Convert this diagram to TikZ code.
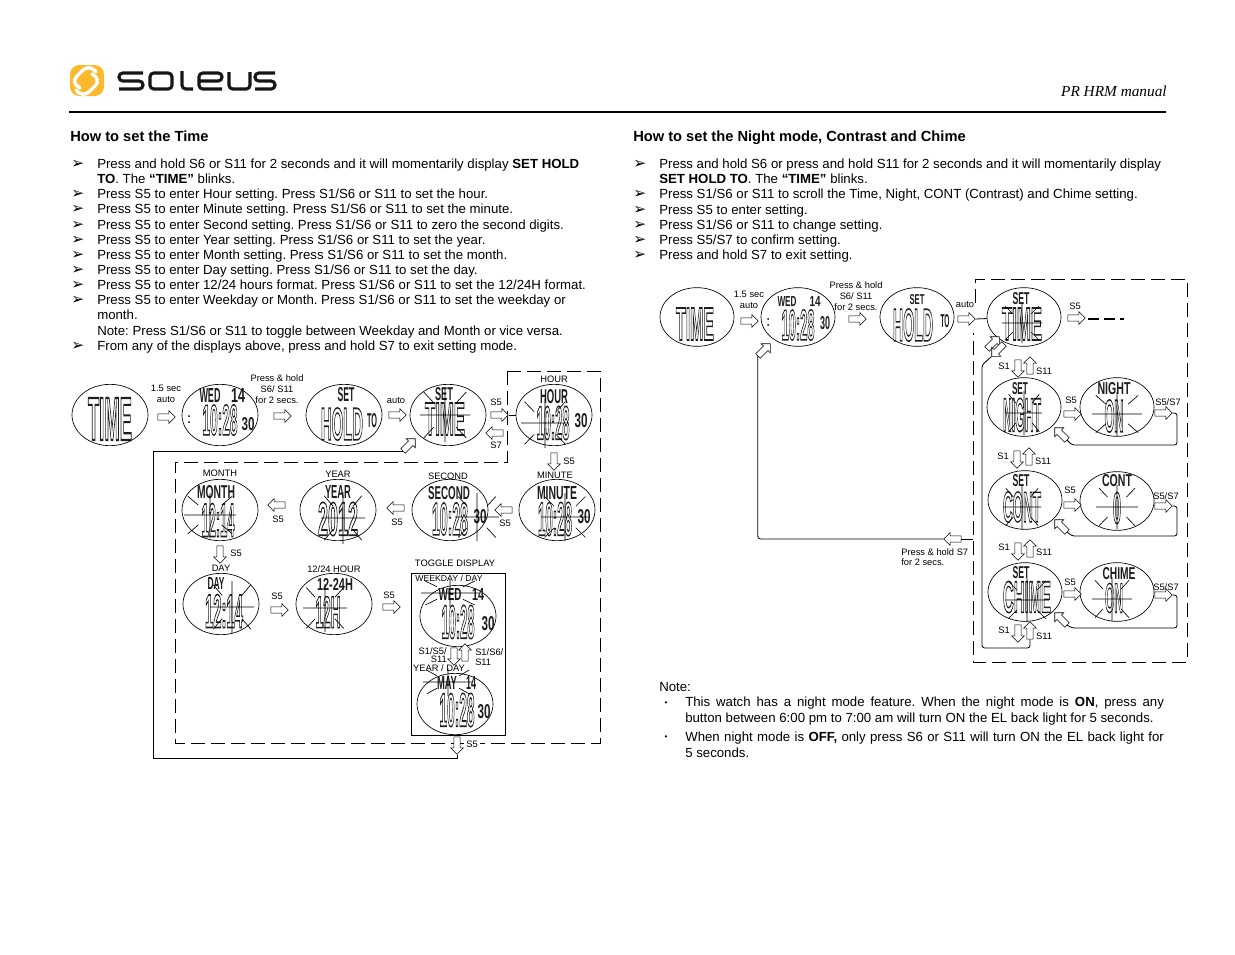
\documentclass[tikz,border=0pt]{standalone}
\usepackage{graphicx}
\usepackage{fontspec}
\setmainfont{Liberation Sans}
\newfontfamily\serifface{Liberation Serif}
\newfontfamily\symface{DejaVu Sans}
\newfontfamily\lcdface{Liberation Sans}
\usetikzlibrary{shapes.geometric, shapes.arrows}
\frenchspacing
\definecolor{logoyellow}{RGB}{253, 185, 46}
\definecolor{logoink}{RGB}{22, 22, 22}
\definecolor{lcdgray}{RGB}{30, 30, 30}
\newlength{\pxunit}
\setlength{\pxunit}{0.75pt}
\tikzset{
  watch/.style={ellipse, draw, line width=0.5pt, inner sep=0pt, minimum width=57pt, minimum height=46pt},
  smallwatch/.style={ellipse, draw, line width=0.5pt, inner sep=0pt, minimum width=55.5pt, minimum height=44pt},
  lcdlabel/.style={inner sep=0pt, text=lcdgray},
  hollow/.style={single arrow, draw, fill=white, line width=0.4pt, inner sep=2.2pt, minimum height=13pt, single arrow head extend=2.4pt, single arrow head indent=0pt},
  wire/.style={line width=0.6pt, rounded corners=2pt},
  dashframe/.style={line width=0.6pt, dash pattern=on 10.5pt off 4.5pt},
  rays/.style={line width=0.5pt},
  caption/.style={inner sep=0pt, font=\fontsize{7}{8}\selectfont, align=center},
  body/.style={inner sep=0pt, anchor=base west, font=\fontsize{9.92}{11}\selectfont},
  bulletmark/.style={inner sep=0pt, anchor=base west, font=\symface\fontsize{11.5}{13}\selectfont},
  heading/.style={inner sep=0pt, anchor=base west, font=\bfseries\fontsize{11}{13}\selectfont},
  notetext/.style={inner sep=0pt, anchor=north west, text width=359pt, align=justify, font=\fontsize{9.92}{11.6}\selectfont},
  notemark/.style={inner sep=0pt, font=\fontsize{6}{7}\selectfont},
  logostroke/.style={draw=logoink, line width=2.3pt, rounded corners=2.8pt}
}
% one stretched text of a display, at (x,y), w by h; tall ones are hollow
\newcommand{\lcdtext}[5]{\node[lcdlabel] (lcd#1#2) at (#1,#2) {\resizebox{#3\pxunit}{#4\pxunit}{\ifnum#4>15 \special{pdf:code 1 Tr 0.34 w}\fi\lcdface\bfseries #5\ifnum#4>15 \special{pdf:code 0 Tr}\fi}};}
\newcommand{\blinkrays}[4]{\draw[rays, shift={(#1,#2)}] (-#3,0) -- (#3,0) (0,-#4) -- (0,#4)
  ({-0.45*#3},{-0.45*#4}) -- ({-0.85*#3},{-0.85*#4}) ({0.45*#3},{-0.45*#4}) -- ({0.85*#3},{-0.85*#4})
  ({-0.45*#3},{0.45*#4}) -- ({-0.85*#3},{0.85*#4}) ({0.45*#3},{0.45*#4}) -- ({0.85*#3},{0.85*#4});}
\begin{document}
\begin{tikzpicture}[x=0.75pt, y=-0.75pt]
\useasboundingbox (0,0) rectangle (1235,954);
% logo
\fill[logoyellow, rounded corners=7pt] (70,65) rectangle (104,96);
\draw[white, line width=2.6pt, line cap=round] (96,72) .. controls (91,66) and (86,67) .. (82,71) -- (77,76) .. controls (73,80) and (74,85) .. (80,88);
\draw[white, line width=2.6pt, line cap=round] (76,90) .. controls (81,96) and (86,95) .. (90,91) -- (95,86) .. controls (99,82) and (98,77) .. (92,74);
\draw[logostroke] (143,73) -- (119,73) -- (119,81) -- (143,81) -- (143,89) -- (119,89);
\draw[logostroke] (150,73) rectangle (172,89);
\draw[logostroke] (182,71) -- (182,89) -- (193,89);
\draw[logostroke] (199,81) -- (222,81) -- (222,73) -- (199,73) -- (199,89) -- (222,89);
\draw[logostroke] (229,72) -- (229,89) -- (250,89) -- (250,72);
\draw[logostroke] (275,73) -- (255,73) -- (255,81) -- (275,81) -- (275,89) -- (255,89);
\node[inner sep=0pt, anchor=base east, font=\serifface\itshape\fontsize{11.5}{13}\selectfont] (manual) at (1167,96) {PR HRM manual};
\draw[line width=1.5pt] (69,112) -- (1166,112);

% left column text
\node[heading] (lefthead) at (70,141) {How to set the Time};
\foreach \ypos in {168,198,213,229,244,259,274,289,304,350}
  \node[bulletmark] (lm\ypos) at (71,\ypos) {➢};
\node[body] (l1) at (97,168) {Press and hold S6 or S11 for 2 seconds and it will momentarily display \textbf{SET HOLD}};
\node[body] (l2) at (97,183) {\textbf{TO}. The \textbf{“TIME”} blinks.};
\node[body] (l3) at (97,198) {Press S5 to enter Hour setting. Press S1/S6 or S11 to set the hour.};
\node[body] (l4) at (97,213) {Press S5 to enter Minute setting. Press S1/S6 or S11 to set the minute.};
\node[body] (l5) at (97,229) {Press S5 to enter Second setting. Press S1/S6 or S11 to zero the second digits.};
\node[body] (l6) at (97,244) {Press S5 to enter Year setting. Press S1/S6 or S11 to set the year.};
\node[body] (l7) at (97,259) {Press S5 to enter Month setting. Press S1/S6 or S11 to set the month.};
\node[body] (l8) at (97,274) {Press S5 to enter Day setting. Press S1/S6 or S11 to set the day.};
\node[body] (l9) at (97,289) {Press S5 to enter 12/24 hours format. Press S1/S6 or S11 to set the 12/24H format.};
\node[body] (l10) at (97,304) {Press S5 to enter Weekday or Month. Press S1/S6 or S11 to set the weekday or};
\node[body] (l11) at (97,319) {month.};
\node[body] (l12) at (97,335) {Note: Press S1/S6 or S11 to toggle between Weekday and Month or vice versa.};
\node[body] (l13) at (97,350) {From any of the displays above, press and hold S7 to exit setting mode.};

% right column text
\node[heading] (righthead) at (633,141) {How to set the Night mode, Contrast and Chime};
\foreach \ypos in {168,198,214,229,244,259}
  \node[bulletmark] (rm\ypos) at (633,\ypos) {➢};
\node[body] (r1) at (659,168) {Press and hold S6 or press and hold S11 for 2 seconds and it will momentarily display};
\node[body] (r2) at (659,183) {\textbf{SET HOLD TO}. The \textbf{“TIME”} blinks.};
\node[body] (r3) at (659,198) {Press S1/S6 or S11 to scroll the Time, Night, CONT (Contrast) and Chime setting.};
\node[body] (r4) at (659,214) {Press S5 to enter setting.};
\node[body] (r5) at (659,229) {Press S1/S6 or S11 to change setting.};
\node[body] (r6) at (659,244) {Press S5/S7 to confirm setting.};
\node[body] (r7) at (659,259) {Press and hold S7 to exit setting.};

% frames go under the arrows
\draw[dashframe] (507,371) -- (600,371) -- (600,743) -- (175,743) -- (175,462) -- (507,462) -- cycle;
\draw[line width=0.5pt] (505,573) -- (411,573) -- (411,735) -- (505,735) -- cycle;
\draw[dashframe] (975,303) -- (975,279) -- (1187,279) -- (1187,662) -- (973,662) -- (973,333);

% left diagram, faces
\node[watch] (ltime) at (110,415) {};
\node[watch] (lwed) at (220,415) {};
\node[watch] (lhold) at (344,415) {};
\node[watch] (lset) at (448,415) {};
\node[watch] (lhour) at (554,415) {};
\node[watch] (lmonth) at (220,510) {};
\node[watch] (lyear) at (338,510) {};
\node[watch] (lsecond) at (450,510) {};
\node[watch] (lminute) at (557,510) {};
\node[watch] (lday) at (221,604) {};
\node[watch] (lhours) at (334,604) {};
\node[watch] (lweek) at (458,616) {};
\node[watch] (lyearday) at (455,704) {};

\begin{scope}[shift={(110,415)}]
\lcdtext{0}{4}{44}{42}{TIME}
\end{scope}
\begin{scope}[shift={(220,415)}]
\lcdtext{-10}{-20}{21}{14}{WED}
\lcdtext{18}{-20}{14}{14}{14}
\lcdtext{0}{5}{35}{30}{10:28}
\lcdtext{28}{9}{13}{13}{30}
\fill (-31,1) circle (1) (-31,7) circle (1);
\end{scope}
\begin{scope}[shift={(344,415)}]
\lcdtext{2}{-20}{17}{14}{SET}
\lcdtext{-2}{9}{42}{32}{HOLD}
\lcdtext{28}{6}{10}{14}{TO}
\end{scope}
\begin{scope}[shift={(448,415)}]
\lcdtext{-4}{-21}{18}{13}{SET}
\lcdtext{-3}{4}{40}{32}{TIME}
\blinkrays{-3}{0}{25}{27}
\end{scope}
\begin{scope}[shift={(554,415)}]
\lcdtext{0}{-18}{28}{14}{HOUR}
\lcdtext{-1}{8}{33}{33}{10:28}
\lcdtext{27}{6}{13}{14}{30}
\blinkrays{-9}{8}{24}{25}
\end{scope}
\begin{scope}[shift={(220,510)}]
\lcdtext{-4}{-18}{38}{13}{MONTH}
\lcdtext{-2}{10}{33}{33}{12:14}
\blinkrays{-10}{5}{26}{22}
\end{scope}
\begin{scope}[shift={(338,510)}]
\lcdtext{0}{-18}{26}{13}{YEAR}
\lcdtext{0}{9}{40}{33}{2012}
\blinkrays{5}{8}{22}{26}
\end{scope}
\begin{scope}[shift={(450,510)}]
\lcdtext{-1}{-17}{42}{13}{SECOND}
\lcdtext{0}{9}{36}{32}{10:28}
\lcdtext{30}{7}{13}{14}{30}
\blinkrays{27}{7}{22}{24}
\end{scope}
\begin{scope}[shift={(557,510)}]
\lcdtext{0}{-17}{40}{13}{MINUTE}
\lcdtext{-2}{9}{34}{33}{10:28}
\lcdtext{27}{7}{13}{14}{30}
\blinkrays{8}{7}{24}{24}
\end{scope}
\begin{scope}[shift={(221,604)}]
\lcdtext{-5}{-21}{17}{12}{DAY}
\lcdtext{3}{7}{38}{33}{12:14}
\blinkrays{11}{3}{22}{26}
\end{scope}
\begin{scope}[shift={(334,604)}]
\lcdtext{1}{-20}{36}{12}{12-24H}
\lcdtext{-6}{8}{25}{31}{12H}
\blinkrays{-9}{4}{22}{24}
\end{scope}
\begin{scope}[shift={(458,616)}]
\lcdtext{-8}{-22}{23}{12}{WED}
\lcdtext{20}{-22}{12}{12}{14}
\lcdtext{0}{6}{33}{33}{10:28}
\lcdtext{30}{8}{13}{14}{30}
\blinkrays{-8}{-23}{29}{14}
\end{scope}
\begin{scope}[shift={(455,704)}]
\lcdtext{-8}{-21}{20}{13}{MAY}
\lcdtext{16}{-21}{10}{13}{14}
\lcdtext{2}{6}{35}{33}{10:28}
\lcdtext{29}{8}{13}{14}{30}
\blinkrays{-7}{-22}{25}{14}
\end{scope}

% left diagram, arrows
\node[hollow] (la1) at (165,417) {};
\node[hollow] (la2) at (281,416) {};
\node[hollow] (la3) at (396,415) {};
\node[hollow] (la4) at (498,415) {};
\node[hollow, rotate=180] (la5) at (496,433) {};
\node[hollow, rotate=45] (la6) at (408,446) {};
\node[hollow, rotate=-90] (la7) at (554,460) {};
\node[hollow, rotate=180] (la8) at (505,510) {};
\node[hollow, rotate=180] (la9) at (397,508) {};
\node[hollow, rotate=180] (la10) at (278,505) {};
\node[hollow, rotate=-90] (la11) at (220,553) {};
\node[hollow] (la12) at (278,610) {};
\node[hollow] (la13) at (390,607) {};
\node[hollow, rotate=-90] (la14) at (454,655) {};
\node[hollow, rotate=90] (la15) at (465,654) {};
\node[hollow, rotate=-90] (la16) at (457,744) {};

% left diagram, labels
\node[caption] (lc1) at (166,394) {1.5 sec\\auto};
\node[caption] (lc2) at (277,389) {Press \& hold\\S6/ S11\\for 2 secs.};
\node[caption] (lc3) at (396,401) {auto};
\node[caption] (lc4) at (496,402) {S5};
\node[caption] (lc5) at (496,445) {S7};
\node[caption] (lc6) at (569,461) {S5};
\node[caption] (lc7) at (505,523) {S5};
\node[caption] (lc8) at (397,522) {S5};
\node[caption] (lc9) at (278,519) {S5};
\node[caption] (lc10) at (236,553) {S5};
\node[caption] (lc11) at (277,596) {S5};
\node[caption] (lc12) at (389,595) {S5};
\node[caption, fill=white, inner sep=1.5pt] (lc13) at (472,744) {S5};
\node[caption] (lc14) at (554,379) {HOUR};
\node[caption] (lc15) at (220,473) {MONTH};
\node[caption] (lc16) at (338,474) {YEAR};
\node[caption] (lc17) at (448,476) {SECOND};
\node[caption] (lc18) at (555,475) {MINUTE};
\node[caption] (lc19) at (221,568) {DAY};
\node[caption] (lc20) at (334,569) {12/24 HOUR};
\node[caption] (lc21) at (455,563) {TOGGLE DISPLAY};
\node[caption, font=\fontsize{6.5}{8}\selectfont] (lc22) at (449,578) {WEEKDAY / DAY};
\node[caption] (lc23) at (439,668) {YEAR / DAY};
\node[caption, align=right, anchor=north east, font=\fontsize{7}{6}\selectfont] (lc24) at (447,647) {S1/S5/\\S11};
\node[caption, align=left, anchor=north west, font=\fontsize{7}{8}\selectfont] (lc25) at (475,648) {S1/S6/\\S11};

% left diagram, connectors
\coordinate (lwirea) at (153,758);
\draw[wire] (la4.tip) -- (lhour);
\draw[wire, rounded corners=0pt] (la16.tip) |- (lwirea) |- (la6.tail);

% right diagram, faces
\node[smallwatch] (rtime) at (697,317) {};
\node[smallwatch] (rwed) at (798,317) {};
\node[smallwatch] (rhold) at (917,317) {};
\node[smallwatch] (rset) at (1024,317) {};
\node[smallwatch] (rsnight) at (1024,407) {};
\node[smallwatch] (rnight) at (1117,407) {};
\node[smallwatch] (rscont) at (1025,500) {};
\node[smallwatch] (rcont) at (1117,501) {};
\node[smallwatch] (rschime) at (1025,592) {};
\node[smallwatch] (rchime) at (1117,592) {};

\begin{scope}[shift={(697,317)}]
\lcdtext{-2}{7}{38}{32}{TIME}
\end{scope}
\begin{scope}[shift={(798,317)}]
\lcdtext{-11}{-16}{19}{10}{WED}
\lcdtext{17}{-16}{11}{10}{14}
\lcdtext{0}{8}{33}{30}{10:28}
\lcdtext{27}{6}{10}{13}{30}
\fill (-30,2) circle (1) (-30,8) circle (1);
\end{scope}
\begin{scope}[shift={(917,317)}]
\lcdtext{0}{-17}{15}{10}{SET}
\lcdtext{-4}{8}{40}{32}{HOLD}
\lcdtext{28}{4}{9}{13}{TO}
\end{scope}
\begin{scope}[shift={(1024,317)}]
\lcdtext{-3}{-18}{17}{12}{SET}
\lcdtext{-2}{7}{40}{32}{TIME}
\blinkrays{-2}{6}{20}{20}
\end{scope}
\begin{scope}[shift={(1024,407)}]
\lcdtext{-4}{-18}{16}{12}{SET}
\lcdtext{-2}{8}{38}{33}{NIGHT}
\blinkrays{0}{6}{18}{22}
\end{scope}
\begin{scope}[shift={(1117,407)}]
\lcdtext{-3}{-18}{33}{12}{NIGHT}
\lcdtext{-3}{9}{19}{32}{ON}
\blinkrays{0}{7}{25}{22}
\end{scope}
\begin{scope}[shift={(1025,500)}]
\lcdtext{-4}{-19}{17}{12}{SET}
\lcdtext{-3}{7}{38}{30}{CONT}
\blinkrays{-3}{7}{19}{22}
\end{scope}
\begin{scope}[shift={(1117,501)}]
\lcdtext{0}{-20}{30}{12}{CONT}
\lcdtext{0}{7}{8}{31}{0}
\blinkrays{0}{6}{21}{22}
\end{scope}
\begin{scope}[shift={(1025,592)}]
\lcdtext{-4}{-19}{17}{12}{SET}
\lcdtext{2}{5}{48}{31}{CHIME}
\blinkrays{2}{8}{22}{22}
\end{scope}
\begin{scope}[shift={(1117,592)}]
\lcdtext{2}{-18}{33}{12}{CHIME}
\lcdtext{-3}{6}{18}{29}{ON}
\blinkrays{-5}{7}{20}{22}
\end{scope}

% right diagram, arrows
\node[hollow] (ra1) at (748,321) {};
\node[hollow] (ra2) at (856,319) {};
\node[hollow] (ra3) at (965,319) {};
\node[hollow] (ra4) at (1075,318) {};
\node[hollow, rotate=45] (ra5) at (763,351) {};
\node[hollow, rotate=180] (ra6) at (954,539) {};
\node[hollow, rotate=45] (ra7) at (992,344) {};
\node[hollow, rotate=225] (ra8) at (999,349) {};
\node[hollow, rotate=-90] (ra9) at (1018,367) {};
\node[hollow, rotate=90] (ra10) at (1030,367) {};
\node[hollow, rotate=-90] (ra11) at (1017,458) {};
\node[hollow, rotate=90] (ra12) at (1029,458) {};
\node[hollow, rotate=-90] (ra13) at (1018,550) {};
\node[hollow, rotate=90] (ra14) at (1030,550) {};
\node[hollow, rotate=-90] (ra15) at (1018,632) {};
\node[hollow, rotate=90] (ra16) at (1030,632) {};
\node[hollow] (ra17) at (1071,414) {};
\node[hollow] (ra18) at (1071,505) {};
\node[hollow] (ra19) at (1071,594) {};
\node[hollow] (ra20) at (1162,413) {};
\node[hollow] (ra21) at (1162,506) {};
\node[hollow] (ra22) at (1162,595) {};
\node[hollow, rotate=135] (ra23) at (1062,435) {};
\node[hollow, rotate=135] (ra24) at (1062,527) {};
\node[hollow, rotate=135] (ra25) at (1062,620) {};

% right diagram, labels
\node[caption] (rc1) at (749,300) {1.5 sec\\auto};
\node[caption] (rc2) at (856,296) {Press \& hold\\S6/ S11\\for 2 secs.};
\node[caption] (rc3) at (965,305) {auto};
\node[caption] (rc4) at (1075,306) {S5};
\node[caption] (rc5) at (1004,366) {S1};
\node[caption] (rc6) at (1044,371) {S11};
\node[caption] (rc7) at (1003,456) {S1};
\node[caption] (rc8) at (1043,461) {S11};
\node[caption] (rc9) at (1004,547) {S1};
\node[caption] (rc10) at (1044,552) {S11};
\node[caption] (rc11) at (1004,630) {S1};
\node[caption] (rc12) at (1044,636) {S11};
\node[caption] (rc13) at (1071,400) {S5};
\node[caption] (rc14) at (1070,490) {S5};
\node[caption] (rc15) at (1070,582) {S5};
\node[caption] (rc16) at (1168,402) {S5/S7};
\node[caption] (rc17) at (1166,496) {S5/S7};
\node[caption] (rc18) at (1166,587) {S5/S7};
\node[caption, align=left, anchor=north west] (rc19) at (901,548) {Press \& hold S7\\for 2 secs.};

% right diagram, connectors
\coordinate (rdasha) at (1088,319);
\coordinate (rdashb) at (1124,319);
\coordinate (rwireb) at (973,539);
\coordinate (rwirec) at (982,365);
\coordinate (rwired) at (982,648);
\coordinate (rwiree) at (1177,445);
\coordinate (rwiref) at (1177,536);
\coordinate (rwireg) at (1177,628);
\draw[line width=1.2pt, dash pattern=on 8pt off 4pt] (rdasha) -- (rdashb);
\draw[wire] (ra3.tip) -- (rset);
\draw[wire] (ra5.tail) |- (ra6.tip);
\draw[wire] (ra6.tail) -- (rwireb);
\draw[wire] (ra8.tip) -- (rwirec) -- (rwired) -| (ra16.tail);
\draw[wire] (ra20.tip) -| (rwiree) -- ++(-105,0) -- (ra23.tail);
\draw[wire] (ra21.tip) -| (rwiref) -- ++(-105,0) -- (ra24.tail);
\draw[wire] (ra22.tip) -| (rwireg) -- ++(-105,0) -- (ra25.tail);

% note
\node[body] (note) at (659,691) {Note:};
\node[notemark] (nm1) at (666,704) {•};
\node[notemark] (nm2) at (666,738) {•};
\node[notetext] (n1) at (685,697) {This watch has a night mode feature. When the night mode is \textbf{ON}, press any\linebreak button between 6:00 pm to 7:00 am will turn ON the EL back light for 5 seconds.};
\node[notetext] (n2) at (685,732) {When night mode is \textbf{OFF,} only press S6 or S11 will turn ON the EL back light for\linebreak 5 seconds.};
\end{tikzpicture}
\end{document}
